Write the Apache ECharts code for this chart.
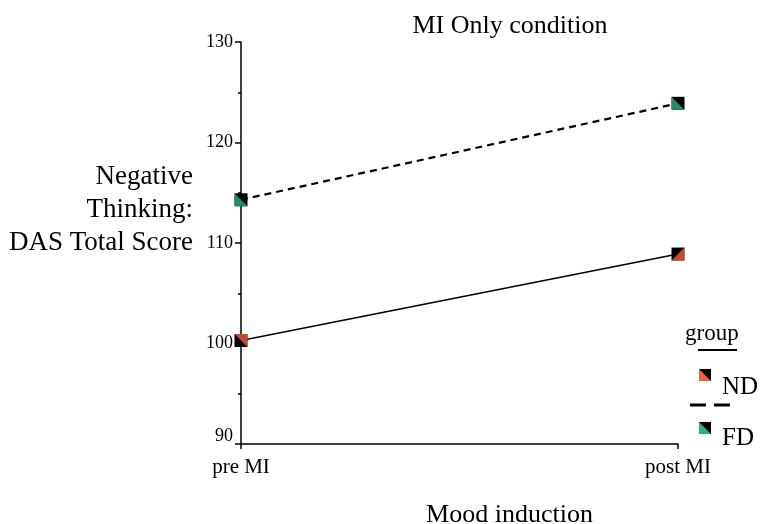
<!DOCTYPE html>
<html><head><meta charset="utf-8">
<script src="https://cdn.jsdelivr.net/npm/echarts@6/dist/echarts.min.js"></script>
<style>html,body{margin:0;padding:0;background:#fff}#c{width:760px;height:524px}</style>
</head><body><div id="c"></div>
<script>
var categories = ['pre MI', 'post MI'];
var ndValues = [100.3, 108.9];
var fdValues = [114.3, 123.9];
var yTicks = [90, 100, 110, 120, 130];
var groups = ['ND', 'FD'];

var FONT = '"Liberation Serif", "Times New Roman", serif';
var ORANGE = '#f2603e';
var GREEN = '#27b27a';
var TRI_LL = 'path://M0,0 L0,1 L1,1 Z';
var TRI_UR = 'path://M0,0 L1,0 L1,1 Z';
var TRI_LR = 'path://M1,0 L1,1 L0,1 Z';

var ndTri = [{sym: TRI_UR}, {sym: TRI_LR}];
var fdTri = [{sym: TRI_LL}, {sym: TRI_LL}];

function triData(vals, tris, color) {
  return vals.map(function (v, i) {
    return { value: v, symbol: tris[i].sym, itemStyle: { color: color } };
  });
}

var chart = echarts.init(document.getElementById('c'));
chart.setOption({
  animation: false,
  title: {
    text: 'MI Only condition', left: 505, top: 8, textAlign: 'center',
    textStyle: { fontFamily: FONT, fontSize: 26, fontWeight: 'normal', color: '#000' }
  },
  grid: { left: 241, right: 82, top: 42, bottom: 80, containLabel: false, outerBoundsMode: 'none' },
  xAxis: {
    type: 'category', data: categories, boundaryGap: false,
    name: 'Mood induction', nameLocation: 'middle', nameGap: 58,
    nameTextStyle: { fontFamily: FONT, fontSize: 26, color: '#000', padding: [0, 0, 0, 100] },
    axisLine: { lineStyle: { color: '#000', width: 1.5 } },
    axisTick: { length: 5, lineStyle: { color: '#000', width: 1.5 } },
    axisLabel: { fontFamily: FONT, fontSize: 21, color: '#000', margin: 13 }
  },
  yAxis: {
    type: 'value', min: 90, max: 130, interval: 10,
    axisLine: { show: true, lineStyle: { color: '#000', width: 1.5 } },
    axisTick: { show: true, length: 6, lineStyle: { color: '#000', width: 1.5 } },
    minorTick: { show: true, splitNumber: 2, length: 3, lineStyle: { color: '#000', width: 1.5 } },
    splitLine: { show: false },
    axisLabel: {
      fontFamily: FONT, fontSize: 18, color: '#000', margin: 8,
      formatter: function (v) { return yTicks.indexOf(v) === 0 ? '{low|' + v + '}' : '' + v; },
      rich: { low: { fontFamily: FONT, fontSize: 18, color: '#000', padding: [0, 0, 16, 0] } }
    }
  },
  series: [
    { name: groups[0], type: 'line', data: ndValues, symbol: 'rect', symbolSize: 13,
      lineStyle: { color: '#000', width: 1.5 }, itemStyle: { color: '#000' }, z: 2 },
    { name: groups[1], type: 'line', data: fdValues, symbol: 'rect', symbolSize: 13,
      lineStyle: { color: '#000', width: 2.2, type: [7, 5] }, itemStyle: { color: '#000' }, z: 2 },
    { type: 'scatter', data: triData(ndValues, ndTri, ORANGE), symbolSize: 13, z: 3, silent: true },
    { type: 'scatter', data: triData(fdValues, fdTri, GREEN), symbolSize: 13, z: 3, silent: true }
  ],
  graphic: [
    { type: 'text', x: 193, y: 210, style: { text: 'Negative\nThinking:\nDAS Total Score', font: '27px ' + FONT, fill: '#000', align: 'right', verticalAlign: 'middle', lineHeight: 33 }, z: 10, silent: true },
    { type: 'text', left: 685, top: 322, style: { text: 'group', font: '23px ' + FONT, fill: '#000' } },
    { type: 'line', shape: { x1: 698, y1: 350, x2: 737, y2: 350 }, style: { stroke: '#000', lineWidth: 2 } },
    { type: 'rect', shape: { x: 699, y: 369, width: 12, height: 12 }, style: { fill: '#000' } },
    { type: 'polygon', shape: { points: [[699, 369], [699, 381], [711, 381]] }, style: { fill: ORANGE } },
    { type: 'text', left: 722, top: 375, style: { text: groups[0], font: '25px ' + FONT, fill: '#000' } },
    { type: 'line', shape: { x1: 690, y1: 405, x2: 730, y2: 405 }, style: { stroke: '#000', lineWidth: 3, lineDash: [16, 8] } },
    { type: 'rect', shape: { x: 699, y: 422, width: 12, height: 12 }, style: { fill: '#000' } },
    { type: 'polygon', shape: { points: [[699, 422], [699, 434], [711, 434]] }, style: { fill: GREEN } },
    { type: 'text', left: 722, top: 426, style: { text: groups[1], font: '25px ' + FONT, fill: '#000' } }
  ]
});
</script></body></html>
